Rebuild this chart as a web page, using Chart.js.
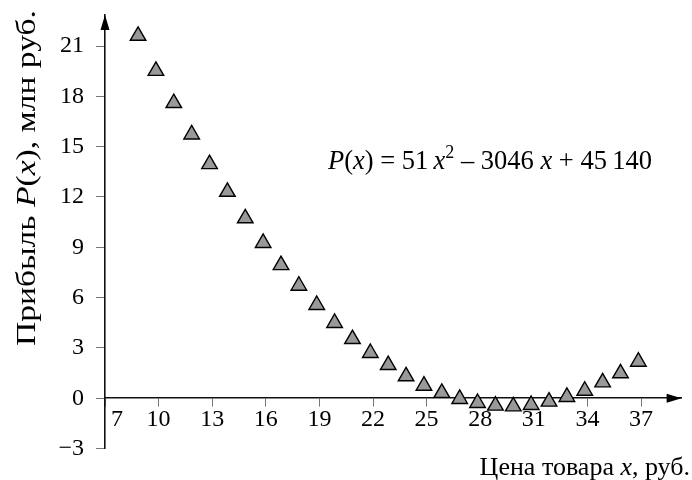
<!DOCTYPE html>
<html>
<head>
<meta charset="utf-8">
<script src="https://cdn.jsdelivr.net/npm/chart.js@4/dist/chart.umd.min.js"></script>
<style>
html,body{margin:0;padding:0;background:#fff;}
#wrap{width:692px;height:480px;position:relative;}
</style>
</head>
<body>
<div id="wrap"><canvas id="c" width="692" height="480"></canvas></div>
<script>
// ---- data ----
const priceValues = [8.85, 9.85, 10.85, 11.85, 12.85, 13.85, 14.85, 15.85, 16.85, 17.85,
                     18.85, 19.85, 20.85, 21.85, 22.85, 23.85, 24.85, 25.85, 26.85, 27.85,
                     28.85, 29.85, 30.85, 31.85, 32.85, 33.85, 34.85, 35.85, 36.85];
const profitValues = [21.61, 19.52, 17.60, 15.73, 13.96, 12.31, 10.73, 9.26, 7.94, 6.71,
                      5.56, 4.49, 3.53, 2.70, 1.98, 1.31, 0.75, 0.32, -0.04, -0.28,
                      -0.44, -0.48, -0.40, -0.20, 0.08, 0.45, 0.95, 1.49, 2.18];
const xTickValues = [7, 10, 13, 16, 19, 22, 25, 28, 31, 34, 37];
const yTickValues = [-3, 0, 3, 6, 9, 12, 15, 18, 21];
const xTitleParts = [{t:'Цена товара '},{t:'x',i:true},{t:', руб.'}];
const yTitleParts = [{t:'Прибыль '},{t:'P',i:true},{t:'('},{t:'x',i:true},{t:'), млн руб.'}];
const equationParts = [{t:'P',i:true},{t:'('},{t:'x',i:true},{t:') = 51\u2009'},{t:'x',i:true},{t:'2',sup:true},
                       {t:' \u2013 3046 '},{t:'x',i:true},{t:' + 45\u2009140'}];

const FONT = '"Liberation Serif", "DejaVu Serif", serif';

function partFont(p, size){
  const s = p.sup ? Math.round(size*0.68) : size;
  return (p.i ? 'italic ' : '') + s + 'px ' + FONT;
}
function richWidth(ctx, parts, size){
  let w = 0;
  parts.forEach(p => { ctx.font = partFont(p, size); w += ctx.measureText(p.t).width; });
  return w;
}
function drawRich(ctx, parts, x, y, size){
  let cx = x;
  ctx.textBaseline = 'alphabetic';
  ctx.textAlign = 'left';
  parts.forEach(p => {
    ctx.font = partFont(p, size);
    ctx.fillText(p.t, cx, p.sup ? y - size*0.42 : y);
    cx += ctx.measureText(p.t).width;
  });
}

const decorPlugin = {
  id: 'decor',
  afterDraw(chart){
    const ctx = chart.ctx;
    const xs = chart.scales.x, ys = chart.scales.y;
    const ca = chart.chartArea;
    const axX = ca.left, zeroY = ys.getPixelForValue(0);
    ctx.save();
    ctx.fillStyle = '#000';
    // arrow heads
    ctx.beginPath();
    ctx.moveTo(axX, ca.top);
    ctx.lineTo(axX - 4.5, ca.top + 15);
    ctx.lineTo(axX + 4.5, ca.top + 15);
    ctx.closePath(); ctx.fill();
    ctx.beginPath();
    ctx.moveTo(ca.right, zeroY);
    ctx.lineTo(ca.right - 15, zeroY - 4.5);
    ctx.lineTo(ca.right - 15, zeroY + 4.5);
    ctx.closePath(); ctx.fill();
    // first x label, shifted right of the vertical axis
    ctx.font = '24px ' + FONT;
    ctx.textAlign = 'center';
    ctx.textBaseline = 'middle';
    ctx.fillText(String(xTickValues[0]), xs.getPixelForValue(xTickValues[0]) + 12, zeroY + 21);
    // x title (right aligned)
    const xw = richWidth(ctx, xTitleParts, 26);
    drawRich(ctx, xTitleParts, 690 - xw, 475, 26);
    // equation
    drawRich(ctx, equationParts, 328, 169, 26.5);
    // y title rotated, stretched along its length as in the picture
    const natural = richWidth(ctx, yTitleParts, 28);
    const stretch = 336 / natural;
    ctx.translate(35, 346);
    ctx.rotate(-Math.PI/2);
    ctx.scale(stretch, 1);
    drawRich(ctx, yTitleParts, 0, 0, 28);
    ctx.restore();
  }
};

new Chart(document.getElementById('c'), {
  type: 'scatter',
  data: {
    datasets: [{
      data: priceValues.map((x, i) => ({x: x, y: profitValues[i]})),
      pointStyle: 'triangle',
      pointRadius: 9,
      pointHoverRadius: 9,
      backgroundColor: '#999999',
      borderColor: '#000000',
      borderWidth: 1.4
    }]
  },
  options: {
    responsive: false,
    animation: false,
    events: [],
    layout: { padding: { left: 0, right: 2, top: 15, bottom: 31.4 } },
    plugins: { legend: { display: false }, tooltip: { enabled: false } },
    scales: {
      x: {
        type: 'linear',
        min: 7, max: 39.27,
        position: { y: 0 },
        afterBuildTicks: s => { s.ticks = xTickValues.map(v => ({ value: v })); },
        afterFit: s => { s.height = 0; s.paddingLeft = 0; s.paddingRight = 0; },
        grid: { display: true, drawOnChartArea: false, drawTicks: true, tickLength: 8, color: '#777', lineWidth: 1 },
        border: { display: true, color: '#111', width: 1.6 },
        ticks: {
          autoSkip: false, maxRotation: 0, padding: -1,
          color: '#000',
          font: { family: FONT, size: 24 },
          callback: v => (v === xTickValues[0] ? '' : String(v))
        }
      },
      y: {
        type: 'linear',
        min: -3, max: 22.85,
        position: 'left',
        afterBuildTicks: s => { s.ticks = yTickValues.map(v => ({ value: v })); },
        afterFit: s => { s.width = 105; s.paddingTop = 0; s.paddingBottom = 0; },
        grid: { display: true, drawOnChartArea: false, drawTicks: true, tickLength: 9, color: '#777', lineWidth: 1 },
        border: { display: true, color: '#111', width: 1.6 },
        ticks: {
          padding: 12,
          color: '#000',
          font: { family: FONT, size: 24 },
          callback: v => (v < 0 ? '\u2212' + Math.abs(v) : String(v))
        }
      }
    }
  },
  plugins: [decorPlugin]
});
</script>
</body>
</html>
